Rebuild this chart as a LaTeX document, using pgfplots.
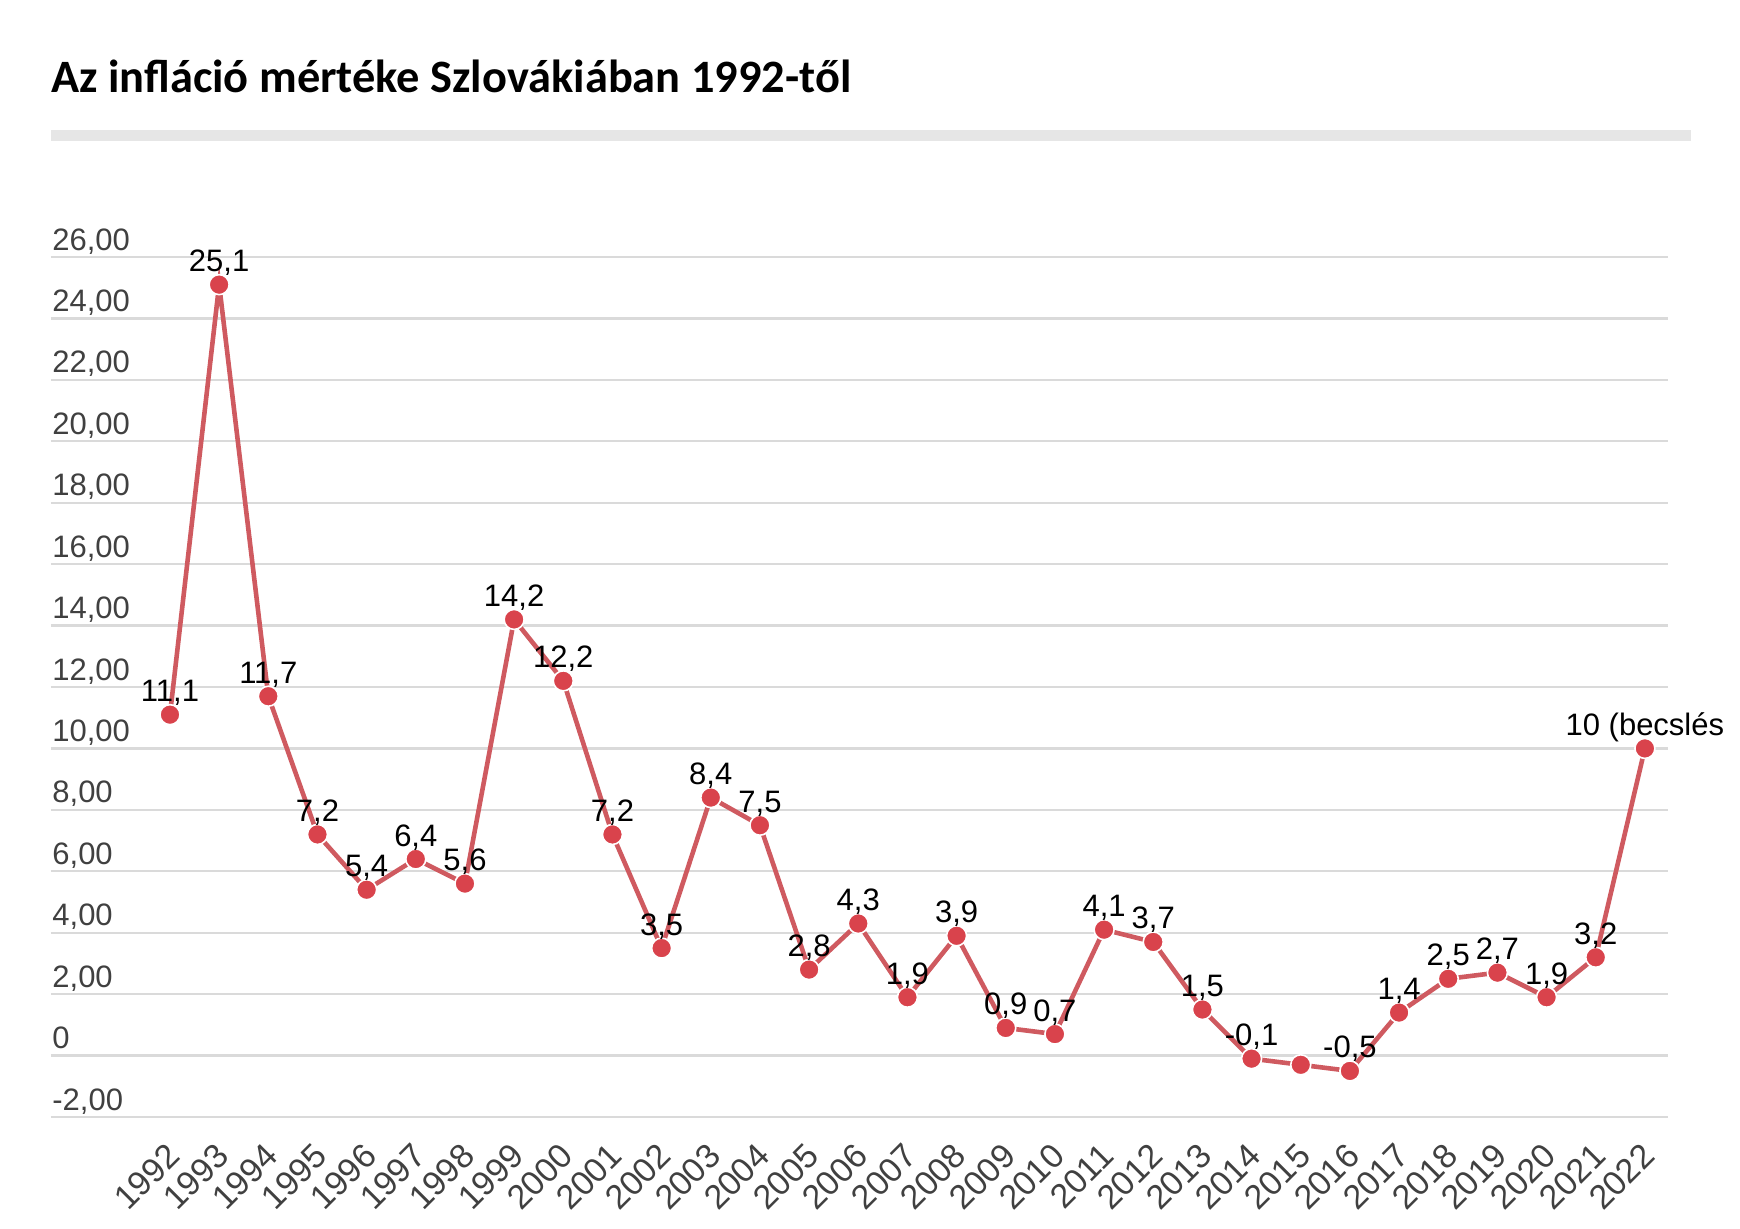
\documentclass[border=0pt]{standalone}
\usepackage{pgfplots}
\pgfplotsset{compat=1.18}
\usepackage{pgfplotstable}
\usepackage{fontspec}
\setmainfont{Liberation Sans}
\newfontfamily\titlefont{Carlito}
\definecolor{linered}{HTML}{CF5A60}
\definecolor{markred}{HTML}{D9434C}
\definecolor{gridgray}{HTML}{DADADA}
\definecolor{ticktext}{HTML}{404040}
\definecolor{bargray}{HTML}{E6E6E6}

\pgfplotstableread{
year val lab
1992 11.1 {11,1}
1993 25.1 {25,1}
1994 11.7 {11,7}
1995 7.2 {7,2}
1996 5.4 {5,4}
1997 6.4 {6,4}
1998 5.6 {5,6}
1999 14.2 {14,2}
2000 12.2 {12,2}
2001 7.2 {7,2}
2002 3.5 {3,5}
2003 8.4 {8,4}
2004 7.5 {7,5}
2005 2.8 {2,8}
2006 4.3 {4,3}
2007 1.9 {1,9}
2008 3.9 {3,9}
2009 0.9 {0,9}
2010 0.7 {0,7}
2011 4.1 {4,1}
2012 3.7 {3,7}
2013 1.5 {1,5}
2014 -0.1 {-0,1}
2015 -0.3 {}
2016 -0.5 {-0,5}
2017 1.4 {1,4}
2018 2.5 {2,5}
2019 2.7 {2,7}
2020 1.9 {1,9}
2021 3.2 {3,2}
2022 10 {10 (becslés}
}\infl

\begin{document}
\begin{tikzpicture}
\path[use as bounding box] (-25.5pt,-55.5pt) rectangle (844.5pt,558.5pt);
\fill[bargray] (0pt,488pt) rectangle (820pt,493.5pt);
\node[anchor=base west, inner sep=0pt] at (0pt,512pt) {\titlefont\bfseries\fontsize{23.2}{28}\selectfont Az infláció mértéke Szlovákiában 1992-től};
\begin{axis}[
  at={(0pt,0pt)}, anchor=south west,
  scale only axis, width=808.5pt, height=430pt,
  xmin=1989.58, xmax=2022.47, ymin=-2, ymax=26,
  clip=false,
  axis line style={draw=none},
  major tick length=0pt,
  ymajorgrids, grid style={gridgray, line width=1.2pt},
  ytick={-2,0,...,26},
  yticklabels={{-2,00},{0},{2,00},{4,00},{6,00},{8,00},{10,00},{12,00},{14,00},{16,00},{18,00},{20,00},{22,00},{24,00},{26,00}},
  yticklabel style={anchor=base west, inner sep=0pt, xshift=0.5pt, yshift=3.5pt, font=\fontsize{15.5}{18}\selectfont, text=ticktext},
  xtick={1992,...,2022},
  /pgf/number format/.cd, 1000 sep={}, assume math mode=true, /pgfplots/.cd,
  xticklabel style={xshift=-2.5pt, yshift=-12pt, rotate=45, anchor=north east, inner sep=0pt, font=\fontsize{17}{20}\selectfont, text=ticktext},
]
\addplot[linered, line width=2.3pt, mark=*, mark size=5pt,
  mark options={fill=markred, draw=white, line width=0.8pt},
  nodes near coords, point meta=explicit symbolic,
  every node near coord/.append style={anchor=base, inner sep=0pt, yshift=6.5pt, font=\fontsize{15.5}{18}\selectfont, text=black}]
  table[x=year, y=val, meta=lab]{\infl};
\end{axis}
\end{tikzpicture}
\end{document}
